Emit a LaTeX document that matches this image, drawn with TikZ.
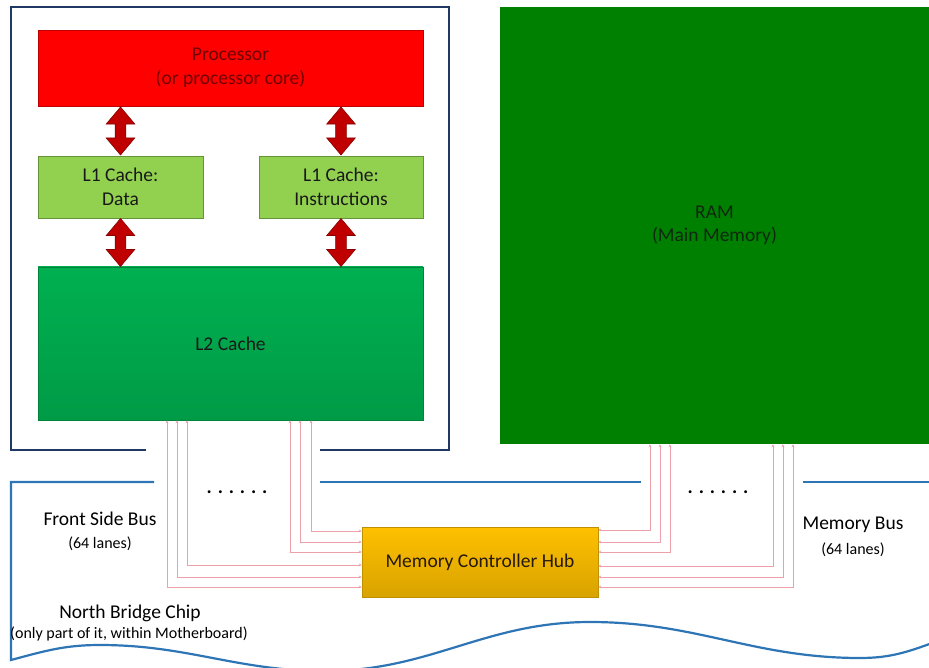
\documentclass[tikz,border=0pt]{standalone}
\usepackage{fontspec}
\setmainfont{Carlito}
\usepackage{xcolor}
\usepackage{tikz}
\usetikzlibrary{arrows.meta,shapes.arrows}
\definecolor{cpunavy}{RGB}{32,56,100}
\definecolor{nbblue}{RGB}{46,117,182}
\definecolor{procred}{RGB}{255,0,0}
\definecolor{proctext}{RGB}{110,0,0}
\definecolor{lonegreen}{RGB}{146,208,80}
\definecolor{ltwogreen}{RGB}{0,176,80}
\definecolor{ramgreen}{RGB}{0,128,0}
\definecolor{ramtext}{RGB}{15,40,15}
\definecolor{hubgold}{RGB}{255,192,0}
\definecolor{arrowred}{RGB}{192,0,0}
\definecolor{buspink}{RGB}{236,160,170}

\begin{document}
\begin{tikzpicture}[x=1pt,y=-1pt,
  every node/.style={font=\fontsize{19.5}{23.5}\selectfont,align=center},
  smalltext/.style={font=\fontsize{16}{19}\selectfont},
  unitbox/.style={rectangle,inner sep=0pt,line width=0.6pt},
  dblarrow/.style={double arrow,rotate=90,fill=arrowred,draw=arrowred!70!black,
    line width=0.6pt,minimum height=48pt,inner sep=5pt,
    double arrow head extend=9pt,double arrow tip angle=80},
  bus/.style={draw=buspink,line width=0.7pt,
    arrows={Stealth[length=3pt,width=3pt]-Stealth[length=3pt,width=3pt]}},
  cpuframe/.style={draw=cpunavy,line width=2.2pt},
  nbframe/.style={draw=nbblue,line width=2.2pt}]
  \useasboundingbox (0,0) rectangle (929,668);

  \draw[cpuframe] (146,450) -- (11,450) -- (11,7) -- (449,7) -- (449,450) -- (320,450);
  \draw[nbframe] (154,482) -- (11,482) -- (11,660) to[out=15,in=180] (100,645)
    to[out=0,in=180] (325,671) to[out=0,in=180] (590,622) to[out=0,in=180] (860,658)
    to[out=0,in=200] (935,642);
  \draw[nbframe] (320,482) -- (641,482);
  \draw[nbframe] (803,482) -- (935,482);

  \node[unitbox,fill=procred,draw=procred!75!black,text=proctext,
    minimum width=385pt,minimum height=76pt] (proc) at (230.5,68) {Processor\\(or processor core)};
  \node[unitbox,fill=lonegreen,draw=lonegreen!70!black,text=black!90,
    minimum width=165pt,minimum height=62pt] (l1d) at (120.5,187) {L1 Cache:\\Data};
  \node[unitbox,fill=lonegreen,draw=lonegreen!70!black,text=black!90,
    minimum width=164pt,minimum height=62pt] (l1i) at (341,187) {L1 Cache:\\Instructions};
  \node[unitbox,top color=ltwogreen,bottom color=ltwogreen!88!black,draw=ltwogreen!75!black,
    text=black!90,minimum width=385pt,minimum height=153pt] (l2) at (230.5,343.5) {L2 Cache};
  \node[unitbox,fill=ramgreen,text=ramtext,
    minimum width=429pt,minimum height=437pt] (ram) at (714.5,225.5) {RAM\\(Main Memory)};
  \node[unitbox,top color=hubgold,bottom color=hubgold!85!black,draw=hubgold!75!black,
    text=black!80!brown,minimum width=236pt,minimum height=70pt] (mch) at (480,562) {Memory Controller Hub};

  \path (l1d.north) -- (l1d.north |- proc.south) node[midway,dblarrow] {};
  \path (l1i.north) -- (l1i.north |- proc.south) node[midway,dblarrow] {};
  \path (l1d.south) -- (l1d.south |- l2.north) node[midway,dblarrow] {};
  \path (l1i.south) -- (l1i.south |- l2.north) node[midway,dblarrow] {};

  \foreach \dx/\dy in {80.5/31,69.5/20,59.5/10,-43.5/-3,-53.5/-15,-63.5/-25}
    \draw[bus] ([xshift=\dx pt]l2.south) |- ([yshift=\dy pt]mch.west);
  \foreach \dx/\dy in {-64.5/32,-54.5/20,-44.5/10,58.5/-4,68.5/-15,78.5/-25}
    \draw[bus] ([xshift=\dx pt]ram.south) |- ([yshift=\dy pt]mch.east);

  \node[font=\fontsize{19.5}{23.5}\selectfont\bfseries] (fsbdots) at (237,492) {. . . . . .};
  \node[font=\fontsize{19.5}{23.5}\selectfont\bfseries] (membusdots) at (718,492) {. . . . . .};
  \node (fsb) at (100,519) {Front Side Bus};
  \node[smalltext] (fsblanes) at (100,544) {(64 lanes)};
  \node (membus) at (853,525) {Memory Bus};
  \node[smalltext] (membuslanes) at (853,550) {(64 lanes)};
  \node (nbchip) at (130,613) {North Bridge Chip};
  \node[smalltext] (nbnote) at (129,634) {(only part of it, within Motherboard)};
\end{tikzpicture}
\end{document}
